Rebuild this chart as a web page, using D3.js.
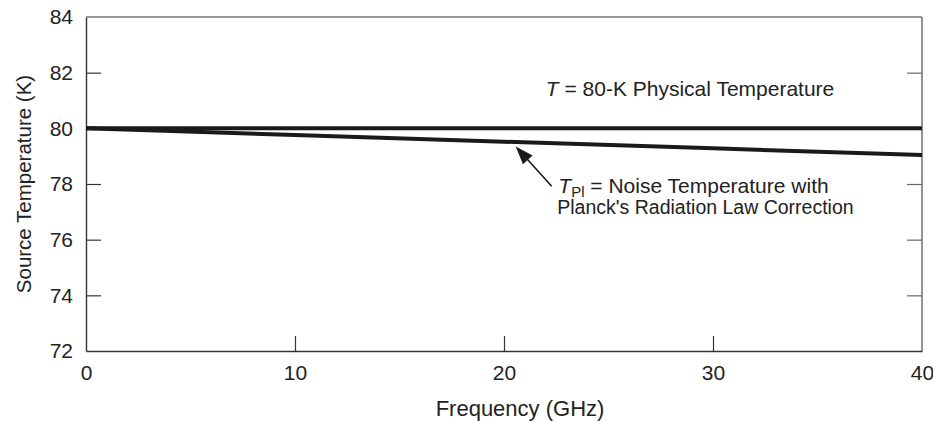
<!DOCTYPE html>
<meta charset="utf-8">
<script src="https://d3js.org/d3.v7.min.js"></script>
<style>
  body { margin: 0; background: #fff; }
  text { font-family: "Liberation Sans", Arial, sans-serif; fill: #222; }
</style>
<div id="chart"></div>
<script>

// data
var freq = [0, 10, 20, 30, 40];
var physical = [80, 80, 80, 80, 80];
var planck = [80, 79.76, 79.52, 79.28, 79.04];
var xTicks = [0, 10, 20, 30, 40];
var yTicks = [72, 74, 76, 78, 80, 82, 84];

var width = 933, height = 421;
var margin = {top: 17, right: 11, bottom: 70, left: 86};

var svg = d3.select("#chart").append("svg")
  .attr("width", width)
  .attr("height", height);

var x = d3.scaleLinear().domain([0, 40]).range([margin.left, width - margin.right]);
var y = d3.scaleLinear().domain([72, 84]).range([height - margin.bottom, margin.top]);

var axisColor = "#333";

// frame
svg.append("line").attr("x1", x(0)).attr("x2", x(40)).attr("y1", y(84)).attr("y2", y(84))
  .attr("stroke", axisColor).attr("stroke-width", 1.2);
svg.append("line").attr("x1", x(40)).attr("x2", x(40)).attr("y1", y(84)).attr("y2", y(72))
  .attr("stroke", "#666").attr("stroke-width", 1.4);

// bottom axis, ticks inward
var xAxis = svg.append("g")
  .attr("transform", "translate(0," + y(72) + ")")
  .call(d3.axisBottom(x).tickValues(xTicks).tickSizeInner(-15).tickSizeOuter(0).tickPadding(14));
xAxis.select(".domain").attr("stroke", axisColor).attr("stroke-width", 1.4);
xAxis.selectAll(".tick line").attr("stroke", axisColor).attr("stroke-width", 1.2)
  .filter(function(d) { return d == 0 || d == 40; }).remove();
xAxis.selectAll(".tick text").style("font-size", "21px").attr("fill", "#222")
  .style("font-family", "Liberation Sans, Arial, sans-serif");

// left axis
var yAxis = svg.append("g")
  .attr("transform", "translate(" + x(0) + ",0)")
  .call(d3.axisLeft(y).tickValues(yTicks).tickSizeInner(-15).tickSizeOuter(0).tickPadding(13));
yAxis.select(".domain").attr("stroke", axisColor).attr("stroke-width", 1.4);
yAxis.selectAll(".tick line").attr("stroke", axisColor).attr("stroke-width", 1.2)
  .filter(function(d) { return d == 72 || d == 84; }).remove();
yAxis.selectAll(".tick text").style("font-size", "21px").attr("fill", "#222")
  .style("font-family", "Liberation Sans, Arial, sans-serif");

// right axis ticks
var rAxis = svg.append("g")
  .attr("transform", "translate(" + x(40) + ",0)")
  .call(d3.axisRight(y).tickValues(yTicks.filter(function(d) { return d > 72 && d < 84; }))
    .tickSizeInner(-15).tickSizeOuter(0).tickFormat(""));
rAxis.select(".domain").remove();
rAxis.selectAll(".tick line").attr("stroke", "#666").attr("stroke-width", 1.2);

// curves
var line = d3.line()
  .x(function(d) { return x(d[0]); })
  .y(function(d) { return y(d[1]); });

svg.append("path")
  .datum(d3.zip(freq, physical))
  .attr("d", line)
  .attr("fill", "none")
  .attr("stroke", "#1a1a1a")
  .attr("stroke-width", 4);

svg.append("path")
  .datum(d3.zip(freq, planck))
  .attr("d", line)
  .attr("fill", "none")
  .attr("stroke", "#1a1a1a")
  .attr("stroke-width", 4);

// axis titles
svg.append("text")
  .attr("x", (x(0) + x(40)) / 2 + 16)
  .attr("y", 416)
  .attr("text-anchor", "middle")
  .style("font-size", "22px")
  .text("Frequency (GHz)");

svg.append("text")
  .attr("transform", "translate(31," + ((y(72) + y(84)) / 2) + ") rotate(-90)")
  .attr("text-anchor", "middle")
  .style("font-size", "20.5px")
  .text("Source Temperature (K)");

// annotations
var t1 = svg.append("text")
  .attr("x", x(22.0))
  .attr("y", y(81.15))
  .style("font-size", "21px");
t1.append("tspan").style("font-style", "italic").text("T");
t1.append("tspan").text(" = 80-K Physical Temperature");

var t2 = svg.append("text")
  .attr("x", x(22.6))
  .attr("y", 193)
  .style("font-size", "21px");
t2.append("tspan").style("font-style", "italic").text("T");
t2.append("tspan").attr("dy", 4).style("font-size", "15px").text("Pl");
t2.append("tspan").attr("dy", -4).text(" = Noise Temperature with");

svg.append("text")
  .attr("x", x(22.55))
  .attr("y", 214)
  .style("font-size", "19.5px")
  .text("Planck's Radiation Law Correction");

// arrow
var tip = [x(20.56), y(79.35)], tail = [x(22.28), y(77.92)];
var ang = Math.atan2(tip[1] - tail[1], tip[0] - tail[0]);
var hl = 18, hw = 6.5;
var base = [tip[0] - hl * Math.cos(ang), tip[1] - hl * Math.sin(ang)];
svg.append("line")
  .attr("x1", tail[0]).attr("y1", tail[1])
  .attr("x2", base[0]).attr("y2", base[1])
  .attr("stroke", "#1a1a1a").attr("stroke-width", 1.6);
svg.append("path")
  .attr("d", "M" + tip[0] + "," + tip[1] +
    " L" + (base[0] + hw * Math.sin(ang)) + "," + (base[1] - hw * Math.cos(ang)) +
    " L" + (base[0] - hw * Math.sin(ang)) + "," + (base[1] + hw * Math.cos(ang)) + " Z")
  .attr("fill", "#1a1a1a");

</script>
